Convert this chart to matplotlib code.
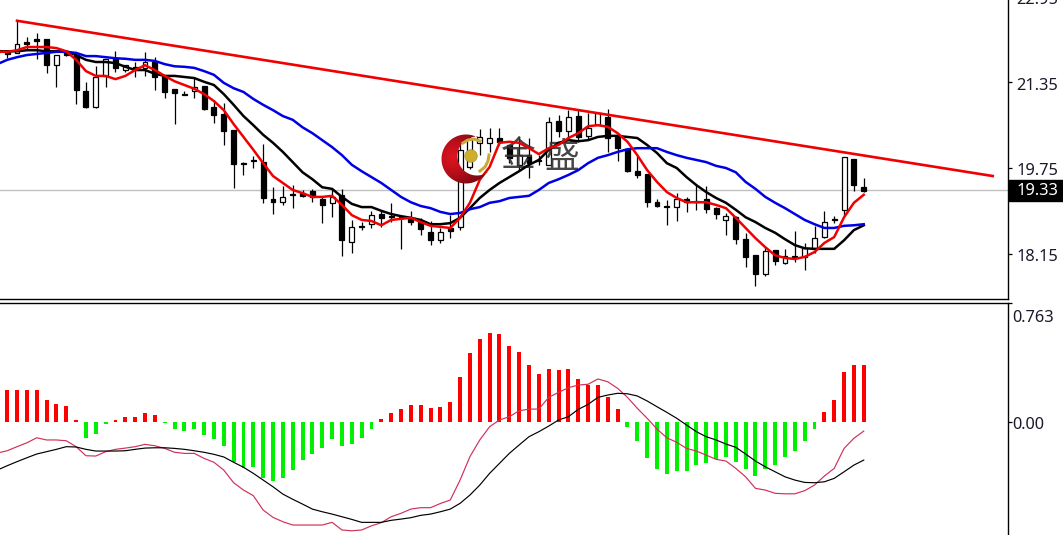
import numpy as np
import matplotlib
matplotlib.use('Agg')
import matplotlib.pyplot as plt
from matplotlib.patches import Rectangle, Circle, Polygon
from matplotlib.colors import LinearSegmentedColormap
from matplotlib.transforms import blended_transform_factory

plt.rcParams['font.family'] = ['Noto Sans', 'Noto Sans CJK SC', 'DejaVu Sans']

# daily candles, first one is cut off by the left edge
opens = [21.95, 21.92, 21.90, 22.10, 22.16, 22.16, 21.67, 21.92, 21.86, 21.19, 20.89, 21.47, 21.80, 21.58, 21.64,
         21.62, 21.73, 21.47, 21.23, 21.13, 21.19, 21.28, 20.89, 20.76, 20.46, 19.84, 19.90, 19.86, 19.17, 19.11,
         19.26, 19.28, 19.32, 19.17, 19.10, 19.25, 18.37, 18.67, 18.70, 18.89, 18.85, 18.83, 18.82, 18.74, 18.55,
         18.40, 18.63, 18.65, 19.77, 20.22, 20.22, 20.31, 20.18, 19.81, 19.99, 19.90, 19.81, 20.63, 20.44, 20.72,
         20.35, 20.55, 20.70, 20.33, 20.10, 19.69, 19.64, 19.11, 19.04, 19.02, 19.17, 19.13, 19.17, 19.00, 18.78,
         18.83, 18.42, 18.12, 17.77, 18.22, 17.97, 18.11, 18.09, 18.24, 18.46, 18.80, 18.97, 19.92, 19.39]
closes = [21.92, 21.88, 22.07, 22.07, 22.12, 21.67, 21.86, 21.86, 21.21, 20.89, 21.45, 21.79, 21.62, 21.67, 21.60,
          21.73, 21.45, 21.17, 21.15, 21.11, 21.26, 20.85, 20.74, 20.44, 19.82, 19.82, 19.88, 19.19, 19.11, 19.21,
          19.25, 19.23, 19.21, 19.06, 19.21, 18.40, 18.65, 18.65, 18.87, 18.82, 18.83, 18.82, 18.74, 18.61, 18.40,
          18.55, 18.57, 20.09, 20.31, 20.33, 20.31, 20.24, 19.94, 19.99, 19.84, 19.88, 20.61, 20.44, 20.70, 20.33,
          20.50, 20.78, 20.31, 20.12, 19.69, 19.62, 19.11, 19.04, 19.02, 19.17, 19.11, 19.11, 18.98, 18.89, 18.85,
          18.42, 18.09, 17.77, 18.20, 18.01, 18.11, 18.07, 18.25, 18.44, 18.74, 18.78, 19.95, 19.43, 19.32]
highs = [22.23, 21.95, 22.50, 22.20, 22.27, 22.16, 21.86, 21.92, 21.86, 21.36, 21.65, 21.79, 21.93, 21.67, 21.73,
         21.92, 21.82, 21.47, 21.23, 21.19, 21.45, 21.28, 21.02, 20.96, 20.46, 19.86, 19.97, 20.20, 19.39, 19.41,
         19.43, 19.34, 19.36, 19.21, 19.38, 19.36, 18.78, 18.74, 18.95, 18.95, 19.10, 18.83, 18.95, 18.82, 18.76,
         18.63, 18.87, 20.20, 20.35, 20.48, 20.50, 20.50, 20.18, 20.35, 20.31, 19.99, 20.70, 20.74, 20.83, 20.83,
         20.78, 20.78, 20.85, 20.33, 20.10, 19.97, 19.64, 19.17, 19.15, 19.28, 19.21, 19.43, 19.41, 19.02, 18.91,
         18.85, 18.54, 18.12, 18.27, 18.22, 18.24, 18.57, 18.35, 18.67, 18.95, 18.85, 19.95, 19.92, 19.56]
lows = [21.92, 21.80, 21.90, 21.95, 21.79, 21.52, 21.26, 21.84, 20.95, 20.87, 20.87, 21.26, 21.54, 21.54, 21.45,
        21.47, 21.21, 21.06, 20.57, 21.11, 21.06, 20.83, 20.59, 20.18, 19.38, 19.62, 19.75, 19.10, 18.89, 19.06,
        19.00, 19.21, 19.11, 18.72, 18.83, 18.11, 18.16, 18.59, 18.63, 18.65, 18.74, 18.24, 18.68, 18.50, 18.31,
        18.35, 18.44, 18.59, 19.73, 19.99, 20.05, 20.18, 19.84, 19.71, 19.56, 19.81, 19.81, 20.33, 20.27, 20.24,
        20.27, 20.55, 20.05, 19.88, 19.67, 19.56, 19.02, 19.02, 18.68, 18.76, 18.93, 18.97, 18.91, 18.80, 18.50,
        18.33, 17.90, 17.55, 17.73, 17.94, 17.96, 17.99, 17.84, 18.16, 18.44, 18.72, 18.87, 19.32, 19.30]

# moving averages
ma_red = [21.92, 21.92, 21.95, 22.01, 22.01, 22.01, 21.99, 21.93, 21.77, 21.56, 21.47, 21.47, 21.41, 21.47, 21.58,
          21.67, 21.58, 21.47, 21.37, 21.30, 21.23, 21.13, 21.00, 20.83, 20.57, 20.33, 20.09, 19.84, 19.60, 19.47,
          19.34, 19.28, 19.21, 19.21, 19.23, 19.06, 18.87, 18.78, 18.76, 18.68, 18.78, 18.80, 18.82, 18.74, 18.67,
          18.65, 18.63, 18.82, 19.10, 19.53, 19.77, 20.22, 20.24, 20.22, 20.12, 20.01, 20.12, 20.18, 20.31, 20.40,
          20.53, 20.55, 20.52, 20.40, 20.24, 19.99, 19.71, 19.49, 19.30, 19.19, 19.11, 19.11, 19.11, 19.06, 19.00,
          18.82, 18.63, 18.44, 18.27, 18.12, 18.07, 18.05, 18.09, 18.18, 18.35, 18.46, 18.83, 19.10, 19.25]
ma_black = [21.93, 21.93, 21.93, 21.95, 21.95, 21.93, 21.93, 21.93, 21.86, 21.77, 21.73, 21.73, 21.71, 21.64, 21.58,
            21.58, 21.51, 21.47, 21.47, 21.45, 21.43, 21.36, 21.30, 21.13, 20.93, 20.72, 20.55, 20.37, 20.22, 20.05,
            19.86, 19.67, 19.54, 19.39, 19.36, 19.21, 19.08, 19.02, 19.02, 18.95, 18.89, 18.85, 18.82, 18.78, 18.70,
            18.70, 18.72, 18.82, 19.00, 19.19, 19.34, 19.47, 19.58, 19.69, 19.81, 19.90, 20.09, 20.22, 20.27, 20.25,
            20.27, 20.33, 20.35, 20.35, 20.33, 20.31, 20.18, 20.03, 19.84, 19.75, 19.58, 19.43, 19.30, 19.19, 19.10,
            18.97, 18.83, 18.74, 18.63, 18.54, 18.42, 18.31, 18.25, 18.24, 18.24, 18.24, 18.40, 18.59, 18.68]
ma_blue = [21.69, 21.77, 21.82, 21.86, 21.88, 21.90, 21.92, 21.92, 21.90, 21.84, 21.84, 21.82, 21.80, 21.79, 21.77,
           21.77, 21.75, 21.69, 21.65, 21.64, 21.62, 21.56, 21.49, 21.34, 21.24, 21.17, 21.04, 20.93, 20.83, 20.72,
           20.65, 20.51, 20.40, 20.27, 20.14, 19.99, 19.81, 19.69, 19.58, 19.47, 19.34, 19.21, 19.11, 19.04, 19.00,
           18.93, 18.89, 18.91, 18.98, 19.02, 19.10, 19.13, 19.19, 19.21, 19.23, 19.34, 19.47, 19.54, 19.62, 19.71,
           19.84, 19.94, 19.99, 20.05, 20.10, 20.12, 20.12, 20.12, 20.05, 19.99, 19.94, 19.90, 19.86, 19.79, 19.75,
           19.67, 19.49, 19.36, 19.21, 19.10, 19.00, 18.89, 18.78, 18.70, 18.63, 18.63, 18.67, 18.68, 18.70]

trend_x = [1, 100.1]
trend_y = [22.50, 19.60]
last_price = 19.33
price_ticks = [22.95, 21.35, 19.75, 18.15]

# macd panel
hist = [0.207, 0.207, 0.207, 0.207, 0.141, 0.118, 0.100, 0.011, -0.100, -0.075, -0.015, 0.011, 0.032, 0.032, 0.058,
        0.043, -0.006, -0.043, -0.058, -0.043, -0.081, -0.107, -0.156, -0.256, -0.293, -0.288, -0.359, -0.380, -0.357,
        -0.306, -0.246, -0.207, -0.165, -0.107, -0.156, -0.139, -0.100, -0.043, 0.017, 0.058, 0.081, 0.107, 0.107,
        0.092, 0.098, 0.126, 0.290, 0.440, 0.532, 0.572, 0.564, 0.489, 0.447, 0.365, 0.308, 0.340, 0.333, 0.340,
        0.274, 0.239, 0.239, 0.162, 0.083, -0.034, -0.120, -0.233, -0.301, -0.333, -0.316, -0.312, -0.276, -0.261,
        -0.237, -0.226, -0.258, -0.301, -0.348, -0.301, -0.274, -0.226, -0.184, -0.120, -0.043, 0.064, 0.139, 0.322,
        0.365, 0.365]
macd_fast = [-0.199, -0.184, -0.158, -0.133, -0.101, -0.115, -0.115, -0.120, -0.158, -0.216, -0.218, -0.190, -0.175,
             -0.167, -0.158, -0.143, -0.152, -0.169, -0.194, -0.201, -0.201, -0.233, -0.258, -0.308, -0.389, -0.436,
             -0.472, -0.564, -0.611, -0.639, -0.660, -0.660, -0.660, -0.660, -0.643, -0.692, -0.697, -0.692, -0.665,
             -0.645, -0.607, -0.585, -0.558, -0.549, -0.549, -0.522, -0.500, -0.372, -0.222, -0.115, -0.030, 0.013,
             0.034, 0.072, 0.083, 0.083, 0.158, 0.190, 0.220, 0.237, 0.242, 0.276, 0.258, 0.216, 0.158, 0.088, 0.024,
             -0.045, -0.101, -0.130, -0.169, -0.186, -0.212, -0.239, -0.250, -0.297, -0.351, -0.425, -0.436, -0.457,
             -0.460, -0.460, -0.440, -0.404, -0.346, -0.297, -0.169, -0.104, -0.058]
macd_slow = [-0.308, -0.280, -0.254, -0.229, -0.205, -0.190, -0.175, -0.158, -0.160, -0.175, -0.186, -0.186, -0.186,
             -0.184, -0.175, -0.167, -0.165, -0.165, -0.169, -0.175, -0.184, -0.194, -0.207, -0.224, -0.258, -0.290,
             -0.329, -0.372, -0.415, -0.462, -0.495, -0.526, -0.558, -0.575, -0.590, -0.607, -0.624, -0.643, -0.643,
             -0.643, -0.630, -0.622, -0.613, -0.598, -0.590, -0.575, -0.558, -0.521, -0.468, -0.404, -0.329, -0.265,
             -0.201, -0.147, -0.094, -0.062, -0.026, 0.013, 0.034, 0.081, 0.113, 0.158, 0.173, 0.184, 0.181, 0.167,
             0.135, 0.098, 0.062, 0.024, -0.019, -0.062, -0.094, -0.115, -0.141, -0.162, -0.205, -0.250, -0.287,
             -0.319, -0.351, -0.372, -0.387, -0.389, -0.383, -0.361, -0.319, -0.276, -0.244]

W, H = 1063, 535
x = np.arange(len(opens)) - 1
x_hist = np.arange(len(hist))
opens, closes, highs, lows = map(np.array, (opens, closes, highs, lows))
hist = np.array(hist)

fig = plt.figure(figsize=(W / 100, H / 100), dpi=100)
right = 1007.5 / W
ax = fig.add_axes([0, (H - 299) / H, right, 299 / H])
ax2 = fig.add_axes([0, 0, right, (H - 302.5) / H])

for a in (ax, ax2):
    a.set_xlim(-0.73, 101.6)
    a.set_xticks([])
    a.yaxis.tick_right()
    a.tick_params(axis='y', length=3, width=0.9, labelright=False)
    a.spines['left'].set_visible(False)
    for s in a.spines.values():
        s.set_linewidth(1.0)

# overlay in pixels for watermark and the price box
ov = fig.add_axes([0, 0, 1, 1], facecolor='none')
ov.set_xlim(0, W)
ov.set_ylim(H, 0)
ov.axis('off')

# price panel
ax.set_ylim(17.303, 22.888)
ax.spines['top'].set_visible(False)
ax.set_yticks(price_ticks[1:])
ax.axhline(last_price, color='#c0c0c0', lw=1, zorder=1)

ax.vlines(x, lows, highs, color='black', lw=0.9, zorder=2)
up = closes >= opens
body_bottom = np.minimum(opens, closes)
body_height = np.abs(closes - opens)
ax.bar(x[up], body_height[up], bottom=body_bottom[up], width=0.5, facecolor='white',
       edgecolor='black', lw=0.9, zorder=3)
ax.bar(x[~up], body_height[~up], bottom=body_bottom[~up], width=0.5, facecolor='black',
       edgecolor='black', lw=0.9, zorder=3)

# watermark text sits under the averages
for cx, ch in [(518, '金'), (562, '盛')]:
    ax.text(cx, 157, ch, transform=ov.transData, family=['Noto Sans CJK SC', 'DejaVu Sans'], fontsize=25,
            color='#333333', alpha=0.9, ha='center', va='center', zorder=3.5)

ax.plot(x, ma_black, color='black', lw=1.8, zorder=4)
ax.plot(x, ma_blue, color='#0000e6', lw=1.8, zorder=4)
ax.plot(x, ma_red, color='#f00000', lw=1.8, zorder=5)
ax.plot(trend_x, trend_y, color='#f00000', lw=1.9, zorder=5)

tr = blended_transform_factory(ax.transAxes, ax.transData)
for v in price_ticks:
    ax.text(1.0085, v - 0.06, '%.2f' % v, transform=tr, fontsize=11.8, color='#1a1a2a',
            va='center', ha='left', clip_on=False)

# macd panel
ax2.set_ylim(-0.724, 0.766)
ax2.spines['bottom'].set_visible(False)
ax2.set_yticks([0.763, 0.0])
colors = ['#ff0000' if v > 0 else '#00f000' for v in hist]
ax2.bar(x_hist, hist, width=0.4, color=colors, zorder=2)
ax2.plot(x, macd_fast, color='#d0305a', lw=0.85, zorder=3)
ax2.plot(x, macd_slow, color='black', lw=0.85, zorder=3)

tr2 = blended_transform_factory(ax2.transAxes, ax2.transData)
ax2.annotate('0.00', xy=(1.0045, 0.0), xycoords=tr2, xytext=(0, -2.5), textcoords='offset pixels',
             fontsize=11.8, color='#1a1a2a', va='center', ha='left', annotation_clip=False)
ax2.annotate('0.763', xy=(1.0045, 0.763), xycoords=tr2, xytext=(0, -15), textcoords='offset pixels',
             fontsize=11.8, color='#1a1a2a', va='center', ha='left', annotation_clip=False)

ov.add_patch(Rectangle((1009, 180), 54, 21, color='black', zorder=5))
ov.text(1016.5, 191, '%.2f' % last_price, color='white', fontsize=11.8, va='center', ha='left', zorder=6)

# crescent of the watermark logo, shaded from bright red to dark at the rim
a_out = np.radians(np.linspace(-63, -327, 60))
a_in = np.radians(np.linspace(56, 273, 60))
outer = np.c_[466 + 24.5 * np.cos(a_out), 159 + 24.5 * np.sin(a_out)]
inner = np.c_[477 + 19.5 * np.cos(a_in), 156 + 19.5 * np.sin(a_in)]
crescent = Polygon(np.vstack([outer, inner]), closed=True, facecolor='none', edgecolor='none')
ov.add_patch(crescent)
gx, gy = np.meshgrid(np.linspace(440, 492, 80), np.linspace(133, 185, 80))
shade = np.hypot(gx - 453, gy - 157) / 32
red_map = LinearSegmentedColormap.from_list('logo', ['#e01420', '#b80f1a', '#7e0a12'])
im = ov.imshow(shade, extent=(440, 492, 185, 133), cmap=red_map, vmin=0, vmax=1, aspect='auto', zorder=6)
im.set_clip_path(crescent)
ov.set_xlim(0, W)
ov.set_ylim(H, 0)
ov.add_patch(Circle((471, 156), 6.3, facecolor='#cfae2e', edgecolor='#a88c1f', lw=0.4, zorder=7))
ov.plot([463, 468, 474, 480], [143, 140, 139, 141], color='#c9a93a', lw=2.2, zorder=7)
ov.plot([480, 485, 488, 489], [171, 167, 161, 155], color='#c9a93a', lw=2.2, zorder=7)

fig.savefig('out.png', dpi=100)
